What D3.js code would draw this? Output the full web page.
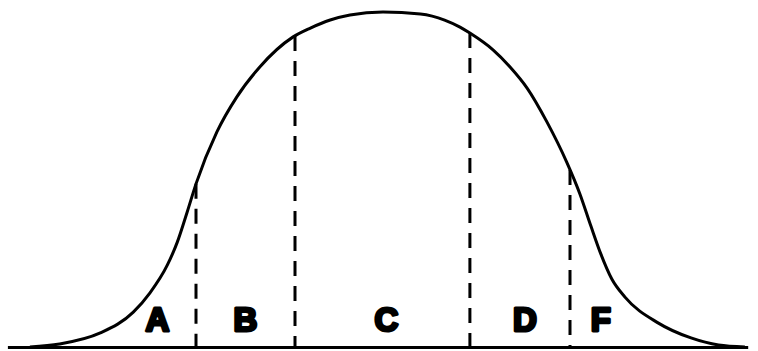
<!DOCTYPE html>
<html>
<head>
<meta charset="utf-8">
<script src="https://cdn.jsdelivr.net/npm/d3@7"></script>
<style>
  html, body { margin: 0; padding: 0; background: #fff; }
  svg { display: block; }
</style>
</head>
<body>
<svg id="chart" width="758" height="351"></svg>
<script>
// Curve points: x in standard-deviation units, y as relative height
const curveX = [-3.21, -2.94, -2.57, -2.27, -2.12, -1.96, -1.87, -1.78, -1.70, -1.51, -1.33, -1.12,
  -0.82, -0.66, -0.48, -0.30, 0.00, 0.34, 0.56, 0.70, 0.79, 1.00, 1.155, 1.31, 1.49, 1.67, 1.79, 1.89,
  1.98, 2.08, 2.20, 2.50, 2.80, 3.05, 3.29];
const curveY = [0.000, 0.009, 0.042, 0.104, 0.161, 0.245, 0.313, 0.403, 0.487, 0.642, 0.746, 0.836,
  0.925, 0.952, 0.976, 0.991, 1.000, 0.994, 0.976, 0.955, 0.937, 0.887, 0.836, 0.773, 0.672, 0.552, 0.457, 0.361,
  0.278, 0.203, 0.149, 0.072, 0.027, 0.006, 0.000];
// Grade boundaries (dashed lines)
const cutoffs = [-1.70, -0.80, 0.79, 1.70];
// Grade labels and their centres
const grades = ["A", "B", "C", "D", "F"];
const gradeX = [-2.05, -1.25, 0.03, 1.29, 1.98];
// Axis extent
const axisExtent = [-3.41, 3.32];

const svg = d3.select("#chart");
const x = d3.scaleLinear().domain([0, 1]).range([383, 493]); // 1 sd = 110 px
const y = d3.scaleLinear().domain([0, 1]).range([347, 12]);

const pts = curveX.map((d, i) => [d, curveY[i]]);
const interp = d3.scaleLinear().domain(curveX).range(curveY);

// Baseline
svg.append("line")
  .attr("x1", x(axisExtent[0])).attr("x2", x(axisExtent[1]))
  .attr("y1", y(0) + 0.5).attr("y2", y(0) + 0.5)
  .attr("stroke", "#000").attr("stroke-width", 3);

// Dashed boundaries (drawn from the curve downwards)
svg.selectAll("line.cut").data(cutoffs).join("line")
  .attr("class", "cut")
  .attr("x1", d => x(d)).attr("x2", d => x(d))
  .attr("y1", d => y(interp(d))).attr("y2", y(0))
  .attr("stroke", "#000").attr("stroke-width", 3)
  .attr("stroke-dasharray", "15,10");

// Bell curve
const line = d3.line().x(d => x(d[0])).y(d => y(d[1])).curve(d3.curveMonotoneX);
svg.append("path").datum(pts)
  .attr("d", line)
  .attr("fill", "none").attr("stroke", "#000").attr("stroke-width", 3);

// Labels
svg.selectAll("text.grade").data(grades).join("text")
  .attr("class", "grade")
  .attr("x", (d, i) => x(gradeX[i]))
  .attr("y", 331)
  .attr("text-anchor", "middle")
  .attr("font-family", "'Liberation Sans', Arial, sans-serif")
  .attr("font-weight", "bold")
  .attr("font-size", 33)
  .attr("fill", "#000").attr("stroke", "#000").attr("stroke-width", 3)
  .attr("stroke-linejoin", "round")
  .text(d => d);
</script>
</body>
</html>
